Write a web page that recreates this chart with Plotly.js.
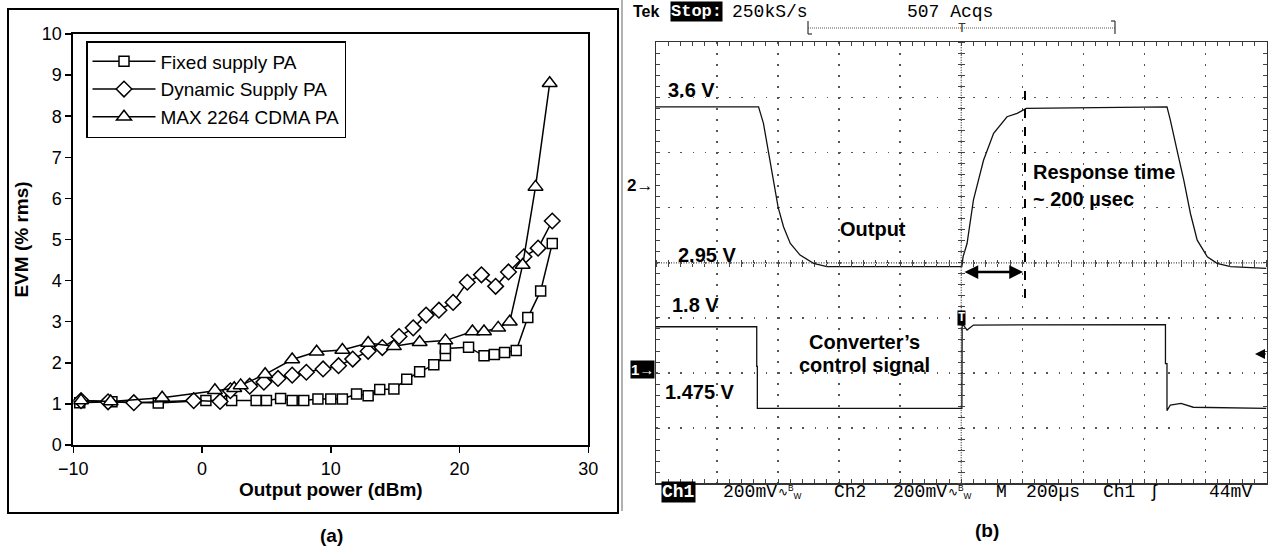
<!DOCTYPE html>
<html><head><meta charset="utf-8">
<script src="https://cdn.plot.ly/plotly-3.0.1.min.js"></script>
<style>html,body{margin:0;padding:0;background:#fff;}#chart{width:1268px;height:548px;}</style>
</head><body><div id="chart"></div>
<script>
// ---------- Panel (a): EVM vs output power ----------
const fixedX = [-9.5, -7.0, -3.4, 0.3, 2.3, 4.2, 5.0, 6.1, 7.0, 7.9, 9.0, 10.0, 10.9, 12.0, 12.9, 13.8, 14.9, 15.9, 16.9, 18.0, 18.9, 18.9, 20.7, 21.9, 22.7, 23.5, 24.4, 25.3, 26.3, 27.2];
const fixedY = [1.03, 1.05, 1.02, 1.08, 1.08, 1.08, 1.08, 1.13, 1.08, 1.08, 1.12, 1.12, 1.12, 1.24, 1.20, 1.35, 1.36, 1.60, 1.78, 1.95, 2.18, 2.35, 2.38, 2.17, 2.20, 2.25, 2.30, 3.10, 3.75, 4.90];
const dynX = [-9.4, -7.3, -5.3, -0.65, 1.4, 2.2, 3.7, 4.8, 5.9, 7.0, 8.1, 9.4, 10.6, 11.7, 12.9, 14.0, 15.3, 16.4, 17.4, 18.4, 19.5, 20.6, 21.7, 22.8, 23.8, 25.0, 26.1, 27.2];
const dynY = [1.08, 1.05, 1.03, 1.08, 1.06, 1.32, 1.43, 1.53, 1.62, 1.70, 1.77, 1.85, 1.93, 2.09, 2.28, 2.37, 2.64, 2.85, 3.16, 3.28, 3.47, 3.96, 4.14, 3.86, 4.21, 4.58, 4.79, 5.45];
const maxX = [-9.4, -7.1, -3.1, 1.0, 2.5, 3.0, 4.9, 7.0, 8.9, 10.9, 12.9, 14.9, 16.9, 18.9, 21.0, 21.9, 23.0, 23.9, 24.9, 25.9, 27.0];
const maxY = [1.08, 1.06, 1.15, 1.33, 1.38, 1.45, 1.72, 2.08, 2.27, 2.31, 2.48, 2.40, 2.50, 2.54, 2.76, 2.76, 2.85, 3.00, 4.38, 6.28, 8.80];
const seriesNames = ['Fixed supply PA', 'Dynamic Supply PA', 'MAX 2264 CDMA PA'];
const xTicksA = [-10, 0, 10, 20, 30];
const yTicksA = [0, 1, 2, 3, 4, 5, 6, 7, 8, 9, 10];

// ---------- Panel (b): oscilloscope traces (time in µs, 200 µs/div; amplitude in divisions) ----------
const outT = [0, 336, 352, 368, 384, 400, 418, 440, 472, 516, 560, 1002, 1006, 1019, 1040, 1073, 1106, 1150, 1183, 1213, 1674, 1685, 1707, 1729, 1751, 1773, 1806, 1838, 1882, 2000];
const outV = [6.83, 6.83, 6.53, 6.04, 5.50, 5.01, 4.65, 4.35, 4.14, 3.99, 3.93, 3.93, 4.11, 4.35, 5.14, 5.86, 6.35, 6.65, 6.71, 6.80, 6.83, 6.59, 6.04, 5.50, 4.89, 4.41, 4.11, 3.99, 3.93, 3.90];
const ctlT = [0, 330, 330, 332, 332, 1002, 1003, 1019, 1040, 1669, 1669, 1674, 1674, 1685, 1720, 1760, 2000];
const ctlV = [2.84, 2.84, 2.12, 2.12, 1.36, 1.36, 2.90, 2.78, 2.87, 2.88, 2.17, 2.17, 1.32, 1.42, 1.45, 1.38, 1.36];

const W = 1268, H = 548;
const px = v => v / W, py = v => 1 - v / H;
const SANS = 'Liberation Sans, Arial, sans-serif';
const MONO = 'Liberation Mono, DejaVu Sans Mono, monospace';

const lineStyle = {color: '#000', width: 1.5};
const mk = (sym, size) => ({symbol: sym, size: size, color: '#fff', line: {color: '#000', width: 1.5}});

const traces = [
  {x: fixedX, y: fixedY, name: seriesNames[0], mode: 'lines+markers', line: lineStyle, marker: mk('square', 10), xaxis: 'x', yaxis: 'y'},
  {x: dynX, y: dynY, name: seriesNames[1], mode: 'lines+markers', line: lineStyle, marker: mk('diamond', 12), xaxis: 'x', yaxis: 'y'},
  {x: maxX, y: maxY, name: seriesNames[2], mode: 'lines+markers', line: lineStyle, marker: mk('triangle-up', 13), xaxis: 'x', yaxis: 'y'},
  {x: outT, y: outV, mode: 'lines', line: {color: '#111', width: 1.3}, xaxis: 'x2', yaxis: 'y2', showlegend: false, hoverinfo: 'skip'},
  {x: ctlT, y: ctlV, mode: 'lines', line: {color: '#111', width: 1.3}, xaxis: 'x2', yaxis: 'y2', showlegend: false, hoverinfo: 'skip'},
  // empty traces that only make the centre-cross tick axes exist
  {x: [], y: [], xaxis: 'x3', yaxis: 'y2', showlegend: false},
  {x: [], y: [], xaxis: 'x4', yaxis: 'y2', showlegend: false},
  {x: [], y: [], xaxis: 'x2', yaxis: 'y3', showlegend: false},
  {x: [], y: [], xaxis: 'x2', yaxis: 'y4', showlegend: false}
];

const scopeGrid = '#555';
const centerTickX = (side) => ({overlaying: 'x2', anchor: 'free', position: py(262.6), side: side, range: [0, 2000],
  showline: false, showgrid: false, zeroline: false, showticklabels: false,
  ticks: 'outside', ticklen: 3, tickwidth: 1, tickcolor: '#444', dtick: 200,
  minor: {dtick: 40, ticks: 'outside', ticklen: 3, tickcolor: '#444'}});
const centerTickY = (side) => ({overlaying: 'y2', anchor: 'free', position: px(961.3), side: side, range: [0, 8],
  showline: false, showgrid: false, zeroline: false, showticklabels: false,
  ticks: 'outside', ticklen: 3, tickwidth: 1, tickcolor: '#444', dtick: 1,
  minor: {dtick: 0.2, ticks: 'outside', ticklen: 3, tickcolor: '#444'}});

// text helper: paper-placed label at pixel position
const lbl = (text, x, y, xa, font, extra) => Object.assign({text: text, x: px(x), y: py(y), xanchor: xa, yanchor: 'middle',
  xref: 'paper', yref: 'paper', showarrow: false, font: font}, extra || {});
const B20 = {size: 20, family: SANS, color: '#000'};
const M18 = {size: 18, family: MONO, color: '#000'};

const layout = {
  width: W, height: H,
  margin: {l: 0, r: 0, t: 0, b: 0},
  paper_bgcolor: '#fff', plot_bgcolor: '#fff',
  font: {family: SANS, color: '#000'},
  showlegend: true,
  legend: {x: px(86), y: py(41), xanchor: 'left', yanchor: 'top', bgcolor: '#fff', bordercolor: '#000', borderwidth: 1.5,
    font: {size: 19, family: SANS, color: '#000'}, tracegroupgap: 0, itemwidth: 63},
  xaxis: {domain: [px(73.3), px(588.3)], range: [-10, 30], tickvals: xTicksA, ticks: 'outside', ticklen: 6, tickwidth: 1.5, tickcolor: '#000',
    showline: true, linewidth: 2, linecolor: '#000', mirror: true, showgrid: false, zeroline: false, automargin: false,
    tickfont: {size: 18, family: SANS, color: '#000'}, anchor: 'y',
    title: {text: '<b>Output power (dBm)</b>', font: {size: 19, family: SANS, color: '#000'}, standoff: 2}},
  yaxis: {domain: [py(445), py(34)], range: [0, 10], tickvals: yTicksA, ticks: 'outside', ticklen: 6, tickwidth: 1.5, tickcolor: '#000',
    showline: true, linewidth: 2, linecolor: '#000', mirror: true, showgrid: false, zeroline: false, automargin: false,
    tickfont: {size: 18, family: SANS, color: '#000'}, anchor: 'x',
    title: {text: '<b>EVM (% rms)</b>', font: {size: 19, family: SANS, color: '#000'}, standoff: 8}},
  xaxis2: {domain: [px(656), px(1266.5)], range: [0, 2000], dtick: 200, anchor: 'y2',
    showgrid: true, gridcolor: scopeGrid, gridwidth: 1.5, griddash: '1.5px,9.5px',
    showline: true, linecolor: '#333', linewidth: 1.5, mirror: 'allticks', zeroline: false, showticklabels: false, automargin: false,
    ticks: 'inside', ticklen: 4, tickcolor: '#444', minor: {dtick: 40, ticks: 'inside', ticklen: 3, tickcolor: '#444'}},
  yaxis2: {domain: [py(483.3), py(42.3)], range: [0, 8], dtick: 1, anchor: 'x2',
    showgrid: true, gridcolor: scopeGrid, gridwidth: 1.5, griddash: '1.5px,10.7px',
    showline: true, linecolor: '#333', linewidth: 1.5, mirror: 'allticks', zeroline: false, showticklabels: false, automargin: false,
    ticks: 'inside', ticklen: 4, tickcolor: '#444', minor: {dtick: 0.2, ticks: 'inside', ticklen: 3, tickcolor: '#444'}},
  xaxis3: centerTickX('bottom'),
  xaxis4: centerTickX('top'),
  yaxis3: centerTickY('left'),
  yaxis4: centerTickY('right'),
  shapes: [
    // panel (a) outer frame
    {type: 'rect', xref: 'paper', yref: 'paper', x0: px(8), x1: px(618), y0: py(513), y1: py(9), line: {color: '#000', width: 2}},
    // left edge of scope screenshot
    {type: 'line', xref: 'paper', yref: 'paper', x0: px(622), x1: px(622), y0: py(511), y1: py(0), line: {color: '#999', width: 1.5}},
    // centre cross of the scope graticule
    {type: 'line', xref: 'x2', yref: 'y2', x0: 1000, x1: 1000, y0: 0, y1: 8, line: {color: '#444', width: 1.3, dash: '1px,1.5px'}},
    {type: 'line', xref: 'x2', yref: 'y2', x0: 0, x1: 2000, y0: 4, y1: 4, line: {color: '#444', width: 1.3, dash: '1px,1.5px'}},
    // record-view bar at top
    {type: 'line', xref: 'paper', yref: 'paper', x0: px(808), x1: px(1115), y0: py(28), y1: py(28), line: {color: '#555', width: 1, dash: '1px,1px'}},
    {type: 'line', xref: 'paper', yref: 'paper', x0: px(808), x1: px(808), y0: py(34), y1: py(21), line: {color: '#333', width: 1.2}},
    {type: 'line', xref: 'paper', yref: 'paper', x0: px(808), x1: px(812), y0: py(34), y1: py(34), line: {color: '#333', width: 1.2}},
    {type: 'line', xref: 'paper', yref: 'paper', x0: px(1115), x1: px(1115), y0: py(34), y1: py(21), line: {color: '#333', width: 1.2}},
    {type: 'line', xref: 'paper', yref: 'paper', x0: px(1111), x1: px(1115), y0: py(21), y1: py(21), line: {color: '#333', width: 1.2}},
    // response-time dashed marker
    {type: 'line', xref: 'paper', yref: 'paper', x0: px(1025), x1: px(1025), y0: py(298), y1: py(87), line: {color: '#000', width: 2, dash: 'dash'}}
  ],
  annotations: [
    lbl('<b>(a)</b>', 331.7, 535, 'center', {size: 19, family: SANS}),
    lbl('<b>(b)</b>', 987, 530, 'center', {size: 19, family: SANS}),
    lbl('<b>Tek</b>', 631, 12, 'left', {size: 16, family: SANS}),
    lbl('<b>Stop:</b>', 696, 12, 'center', {size: 17, family: MONO, color: '#fff'}, {bgcolor: '#000', borderpad: 0}),
    lbl('250kS/s', 730, 12, 'left', M18),
    lbl('507 Acqs', 905, 12, 'left', M18),
    lbl('T', 961.7, 28, 'center', {size: 13, family: MONO, color: '#333'}),
    lbl('<b>3.6 V</b>', 666, 90, 'left', B20),
    lbl('<b>2.95 V</b>', 676, 255, 'left', B20),
    lbl('<b>Output</b>', 838, 229, 'left', B20),
    lbl('<b>Response time</b>', 1031, 172, 'left', B20),
    lbl('<b>~ 200 µsec</b>', 1031, 199, 'left', B20),
    lbl('<b>1.8 V</b>', 670, 305, 'left', B20),
    lbl('<b>Converter’s</b>', 864, 342, 'center', B20),
    lbl('<b>control signal</b>', 864, 365, 'center', B20),
    lbl('<b>1.475 V</b>', 663, 392, 'left', B20),
    lbl('<b>2→</b>', 655, 185, 'right', {size: 17, family: SANS}),
    lbl('<b>1→</b>', 655, 369, 'right', {size: 15, family: SANS, color: '#fff'}, {bgcolor: '#000', borderpad: 0}),
    lbl('<b>T</b>', 962, 318, 'center', {size: 12, family: MONO, color: '#fff'}, {bgcolor: '#000', borderpad: 0}),
    // trigger level arrow at right edge
    {text: '', x: px(1255), y: py(354), xref: 'paper', yref: 'paper', showarrow: true, ax: 12, ay: 0, arrowhead: 2, arrowsize: 1, arrowwidth: 2, arrowcolor: '#000', standoff: 0},
    // response-time double arrow
    {text: '', x: px(1023), y: py(272), xref: 'paper', yref: 'paper', showarrow: true, ax: -60, ay: 0, arrowside: 'end+start', arrowhead: 2, arrowsize: 1.1, arrowwidth: 2.5, arrowcolor: '#000', standoff: 0, startstandoff: 0},
    // bottom status line
    lbl('<b>Ch1</b>', 661, 492, 'left', {size: 18, family: MONO, color: '#fff'}, {bgcolor: '#000', borderpad: 0}),
    lbl('200mV', 721, 492, 'left', M18),
    lbl('∿<sup>B</sup><sub>W</sub>', 776, 492, 'left', {size: 12, family: SANS}),
    lbl('Ch2', 832, 492, 'left', M18),
    lbl('200mV', 891, 492, 'left', M18),
    lbl('∿<sup>B</sup><sub>W</sub>', 946, 492, 'left', {size: 12, family: SANS}),
    lbl('M', 994, 492, 'left', M18),
    lbl('200µs', 1024, 492, 'left', M18),
    lbl('Ch1', 1101, 492, 'left', M18),
    lbl('ʃ', 1147, 492, 'left', M18),
    lbl('44mV', 1207, 492, 'left', M18)
  ]
};

Plotly.newPlot('chart', traces, layout, {displayModeBar: false, staticPlot: true});
</script>
</body></html>
